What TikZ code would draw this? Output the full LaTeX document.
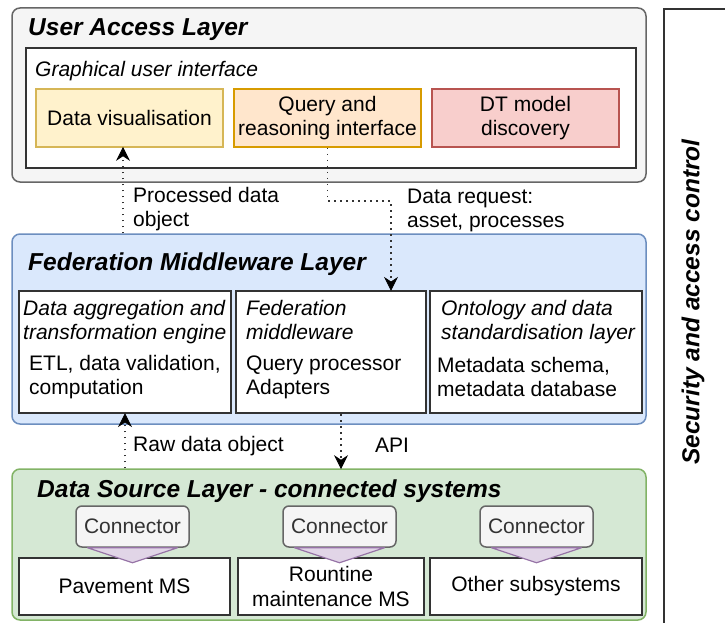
\documentclass[tikz,border=0pt]{standalone}
\usepackage{fontspec}
\setmainfont{Liberation Sans}
\usetikzlibrary{arrows.meta,calc}
\definecolor{ylwF}{HTML}{FFF2CC}\definecolor{ylwD}{HTML}{D6B656}
\definecolor{orgF}{HTML}{FFE6CC}\definecolor{orgD}{HTML}{D79B00}
\definecolor{redF}{HTML}{F8CECC}\definecolor{redD}{HTML}{B85450}
\definecolor{bluF}{HTML}{DAE8FC}\definecolor{bluD}{HTML}{6C8EBF}
\definecolor{grnF}{HTML}{D5E8D4}\definecolor{grnD}{HTML}{82B366}
\definecolor{gryF}{HTML}{F5F5F5}\definecolor{gryD}{HTML}{666666}
\definecolor{purF}{HTML}{E1D5E7}\definecolor{purD}{HTML}{9673A6}
\definecolor{txtG}{HTML}{333333}
\newcommand{\bodyfont}{\fontsize{21}{24.5}\selectfont}
\newcommand{\titlefont}{\fontsize{24.5}{28}\selectfont\bfseries\itshape}
\tikzset{
  layerbox/.style={rectangle, rounded corners=8, line width=1.5, inner sep=0},
  framebox/.style={rectangle, draw=txtG, line width=2, fill=white, inner sep=0},
  colbox/.style={rectangle, line width=1.5, inner sep=0, align=center, font=\bodyfont},
  connbox/.style={rectangle, rounded corners=6, fill=gryF, draw=gryD, line width=1.5,
    inner sep=0, minimum width=113, minimum height=41, font=\bodyfont, text=txtG},
  pointer/.style={fill=purF, draw=purD, line width=1.2, line join=round},
  ltitle/.style={anchor=base west, inner sep=0, font=\titlefont},
  stitle/.style={anchor=base west, inner sep=0, font=\bodyfont\itshape},
  btext/.style={anchor=base west, inner sep=0, font=\bodyfont},
  flow/.style={draw=black!80, line width=1.5pt, dash pattern=on 1.5pt off 4.5pt},
  headtip/.style={draw=black, fill=black, line width=0.8pt, line join=miter},
}
\newcommand{\uphead}[1]{\fill[headtip] (#1) -- ++(-6,12) -- ++(6,-4) -- ++(6,4) -- cycle;}
\newcommand{\downhead}[1]{\fill[headtip] (#1) -- ++(-6,-12) -- ++(6,4) -- ++(6,-4) -- cycle;}
\begin{document}
\begin{tikzpicture}[x=1pt,y=-1pt]
\useasboundingbox (0,0) rectangle (725,623);
% security side box
\node[rectangle, draw=txtG, line width=2, minimum width=120, minimum height=660,
  anchor=north west, inner sep=0] (sec) at (663,8) {};
\node[rotate=90, font=\titlefont, inner sep=0] (seclbl) at (693,302) {Security and access control};

% User access layer
\node[layerbox, fill=gryF, draw=gryD, minimum width=634, minimum height=174] (ual) at (329,95) {};
\node[ltitle] (ualt) at (28,36) {User Access Layer};
\node[framebox, minimum width=610, minimum height=120] (gui) at (331,108) {};
\node[stitle] (guit) at (35,77) {Graphical user interface};
\node[colbox, fill=ylwF, draw=ylwD, minimum width=187, minimum height=58] (dv) at (129.5,118) {Data visualisation};
\node[colbox, fill=orgF, draw=orgD, minimum width=187, minimum height=58] (qr) at (327.5,118) {Query and\\reasoning interface};
\node[colbox, fill=redF, draw=redD, minimum width=187, minimum height=58] (dt) at (525.5,118) {DT model\\discovery};

% Federation middleware layer
\node[layerbox, fill=bluF, draw=bluD, minimum width=634, minimum height=190] (fml) at (329,329) {};
\node[ltitle] (fmlt) at (28,270) {Federation Middleware Layer};
\node[framebox, minimum width=212, minimum height=122] (da) at (125,352) {};
\node[framebox, minimum width=190, minimum height=122] (fm) at (331,352) {};
\node[framebox, minimum width=212, minimum height=122] (on) at (536,352) {};
\node[stitle] (dat1) at (23,315) {Data aggregation and};
\node[stitle] (dat2) at (23,339) {transformation engine};
\node[btext] (dab1) at (29,370) {ETL, data validation,};
\node[btext] (dab2) at (29,394) {computation};
\node[stitle] (fmt1) at (246,315) {Federation};
\node[stitle] (fmt2) at (246,339) {middleware};
\node[btext] (fmb1) at (246,370) {Query processor};
\node[btext] (fmb2) at (246,394) {Adapters};
\node[stitle] (ont1) at (441,315) {Ontology and data};
\node[stitle] (ont2) at (441,339) {standardisation layer};
\node[btext] (onb1) at (437,372) {Metadata schema,};
\node[btext] (onb2) at (437,396) {metadata database};

% Data source layer
\node[layerbox, fill=grnF, draw=grnD, minimum width=634, minimum height=151] (dsl) at (329,544.5) {};
\node[ltitle] (dslt) at (37,497) {Data Source Layer - connected systems};
\node[framebox, minimum width=211, minimum height=57, font=\bodyfont] (pav) at (124.5,586.5) {Pavement MS};
\node[framebox, minimum width=186, minimum height=57, font=\bodyfont, align=center] (rou) at (331,586.5) {Rountine\\maintenance MS};
\node[framebox, minimum width=212, minimum height=57, font=\bodyfont] (oth) at (536,586.5) {Other subsystems};
\node[connbox] (c1) at (132.5,526.5) {Connector};
\node[connbox] (c2) at (339.5,526.5) {Connector};
\node[connbox] (c3) at (536.5,526.5) {Connector};
\foreach \c in {c1,c2,c3}{
  \draw[pointer] ($(\c.south)+(-45,0)$) -- ($(\c.south)+(45,0)$) -- ($(\c.south)+(0,15)$) -- cycle;
}

% connectors
\coordinate (p1) at (123,0);
\coordinate (p2) at (391,201);
\coordinate (p3) at (125,0);
\coordinate (p4) at (341,0);
\coordinate (t1) at (dv.south -| p1);
\coordinate (t2) at (fm.north -| p2);
\coordinate (t3) at (da.south -| p3);
\coordinate (t4) at (dsl.north -| p4);
\draw[flow] (fml.north -| p1) -- ($(t1)+(0,8)$);
\uphead{t1}
\draw[flow] (qr.south) |- (p2) -- ($(t2)+(0,-8)$);
\downhead{t2}
\draw[flow] (dsl.north -| p3) -- ($(t3)+(0,8)$);
\uphead{t3}
\draw[flow] (fm.south -| p4) -- ($(t4)+(0,-8)$);
\downhead{t4}

% labels
\node[btext] (l1a) at (133,202) {Processed data};
\node[btext] (l1b) at (133,226) {object};
\node[btext] (l2a) at (407,203) {Data request:};
\node[btext, fill=white, inner sep=1] (l2b) at (406,227) {asset, processes};
\node[btext] (l3) at (133,451) {Raw data object};
\node[btext] (l4) at (375,452) {API};
\end{tikzpicture}
\end{document}
